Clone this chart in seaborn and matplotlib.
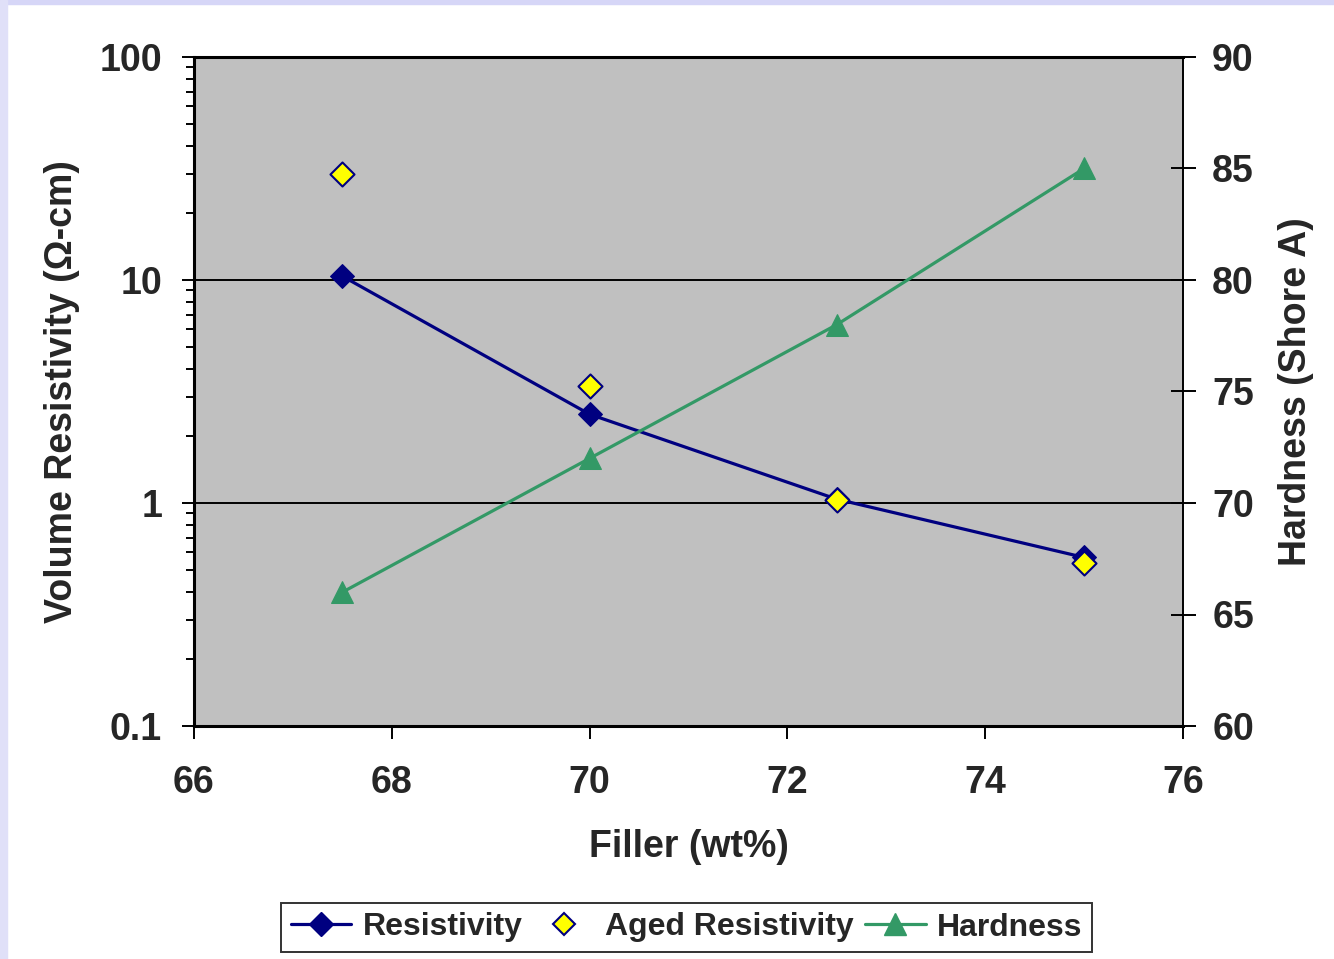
import matplotlib
matplotlib.use("Agg")
import matplotlib.pyplot as plt
from matplotlib.lines import Line2D
from matplotlib.patches import Rectangle
from matplotlib.ticker import LogLocator, FixedLocator, NullFormatter
import seaborn as sns

# values
filler = [67.5, 70.0, 72.5, 75.0]
resistivity = [10.4, 2.5, 1.04, 0.57]
aged_resistivity = [30.0, 3.35, 1.03, 0.54]
hardness = [66, 72, 78, 85]

x_ticks = [66, 68, 70, 72, 74, 76]
left_ticks = [0.1, 1, 10, 100]
left_labels = ["0.1", "1", "10", "100"]
right_ticks = [60, 65, 70, 75, 80, 85, 90]

NAVY = "#000080"
GREEN = "#339966"
YELLOW = "#FFFF00"

sns.set_theme(style="white")
plt.rcParams["font.family"] = ["Liberation Sans", "DejaVu Sans"]
plt.rcParams["font.weight"] = "bold"

fig = plt.figure(figsize=(13.34, 9.59), dpi=100)
# lavender slide border on top and left
fig.patches.append(Rectangle((0, 1 - 4 / 959), 1, 4 / 959, transform=fig.transFigure,
                             color="#D6D6F7", zorder=0))
fig.patches.append(Rectangle((0, 0), 7 / 1334, 1, transform=fig.transFigure,
                             color="#E0E0F8", zorder=0))

ax = fig.add_axes([194 / 1334, 1 - 726 / 959, 989 / 1334, 669 / 959])
ax.set_facecolor("#C0C0C0")

ax.set_yscale("log")
ax.set_ylim(0.1, 100)
ax.set_xlim(66, 76)
for y in [1, 10]:
    ax.axhline(y, color="black", lw=1.4, zorder=1)

sns.lineplot(x=filler, y=resistivity, ax=ax, color=NAVY, lw=2.3, marker="D",
             markersize=12.5, markeredgecolor=NAVY, zorder=4)
sns.scatterplot(x=filler, y=aged_resistivity, ax=ax, marker="D", s=150,
                color=YELLOW, edgecolor=NAVY, linewidth=1.5, zorder=5)

ax.set_xticks(x_ticks)
ax.set_xticklabels([str(t) for t in x_ticks])
ax.yaxis.set_major_locator(FixedLocator(left_ticks))
ax.set_yticklabels(left_labels)
ax.yaxis.set_minor_locator(LogLocator(base=10, subs=range(2, 10)))
ax.yaxis.set_minor_formatter(NullFormatter())

ax2 = ax.twinx()
ax2.set_ylim(60, 90)
sns.lineplot(x=filler, y=hardness, ax=ax2, color=GREEN, lw=2.3, marker="^",
             markersize=15.5, markeredgecolor=GREEN, zorder=4)
ax2.set_yticks(right_ticks)

for spine in ["left", "bottom", "top"]:
    ax.spines[spine].set_linewidth(2.2)
    ax.spines[spine].set_color("black")
ax.spines["right"].set_visible(False)
for spine in ["left", "bottom", "top"]:
    ax2.spines[spine].set_visible(False)
ax2.spines["right"].set_linewidth(1.4)
ax2.spines["right"].set_color("black")

ax.tick_params(axis="x", which="major", direction="out", length=9, width=1.4,
               color="black", labelsize=27, pad=19, bottom=True)
ax.tick_params(axis="y", which="major", direction="out", length=9, width=1.4,
               color="black", labelsize=27, pad=14, left=True)
ax.tick_params(axis="y", which="minor", direction="out", length=6, width=1.4,
               color="black", left=True)
ax2.tick_params(axis="y", which="major", direction="inout", length=18, width=1.4,
                color="black", labelsize=27, pad=12, right=True)

ax.set_xlabel("Filler (wt%)", fontsize=27, fontweight="bold", labelpad=20)
ax.set_ylabel("Volume Resistivity (Ω-cm)", fontsize=27, fontweight="bold", labelpad=14)
ax2.set_ylabel("Hardness (Shore A)", fontsize=27, fontweight="bold", labelpad=17)
for lab in ax.get_xticklabels() + ax.get_yticklabels() + ax2.get_yticklabels():
    lab.set_fontweight("bold")

handles = [
    Line2D([], [], color=NAVY, lw=2.3, marker="D", markersize=12.5, markeredgecolor=NAVY),
    Line2D([], [], ls="none", marker="D", markersize=11, markerfacecolor=YELLOW,
           markeredgecolor=NAVY, markeredgewidth=1.5),
    Line2D([], [], color=GREEN, lw=2.3, marker="^", markersize=15.5, markeredgecolor=GREEN),
]
leg = fig.legend(handles, ["Resistivity", "Aged Resistivity", "Hardness"],
                 loc="center", bbox_to_anchor=(686.5 / 1334, 1 - 927.5 / 959), ncol=3,
                 frameon=True, fancybox=False, edgecolor="black",
                 handlelength=1.9, columnspacing=0.35, handletextpad=0.35,
                 borderpad=0.3, borderaxespad=0, prop={"weight": "bold", "size": 23})
leg.get_frame().set_linewidth(1.4)

fig.savefig("out.png", dpi=100)
